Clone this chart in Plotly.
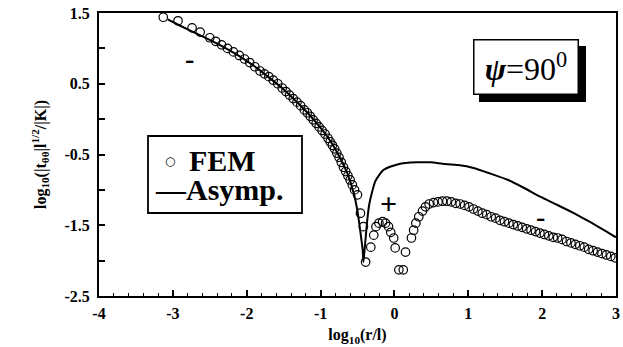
import plotly.graph_objects as go

# ---- data ----
fem_x = [-3.13, -2.93, -2.74, -2.63, -2.50, -2.42, -2.34, -2.26, -2.18, -2.10,
         -2.03, -1.96, -1.89, -1.82, -1.76, -1.70, -1.64, -1.58, -1.52, -1.47,
         -1.42, -1.37, -1.32, -1.27, -1.22, -1.18, -1.14, -1.10, -1.06, -1.02,
         -0.98, -0.94, -0.90, -0.87, -0.84, -0.81, -0.78, -0.75, -0.72, -0.69,
         -0.66, -0.63, -0.60, -0.57, -0.54, -0.50, -0.46, -0.42, -0.39,
         -0.32, -0.28, -0.25, -0.21, -0.16, -0.12, -0.08, -0.05, -0.01, 0.01,
         0.06, 0.12, 0.15,
         0.23, 0.26, 0.29, 0.33, 0.38, 0.42, 0.47, 0.53, 0.59, 0.65,
         0.71, 0.77, 0.83, 0.89, 0.95, 1.01, 1.07, 1.13, 1.19, 1.25,
         1.31, 1.37, 1.43, 1.49, 1.55, 1.61, 1.67, 1.73, 1.79, 1.85,
         1.91, 1.97, 2.03, 2.09, 2.15, 2.21, 2.27, 2.33, 2.39, 2.45,
         2.51, 2.57, 2.63, 2.69, 2.75, 2.81, 2.87, 2.93, 2.99]
fem_y = [1.44, 1.39, 1.29, 1.23, 1.15, 1.10, 1.05, 1.00, 0.95, 0.90,
         0.85, 0.80, 0.74, 0.68, 0.64, 0.60, 0.55, 0.50, 0.44, 0.39,
         0.34, 0.29, 0.24, 0.19, 0.13, 0.09, 0.04, -0.01, -0.06, -0.11,
         -0.16, -0.21, -0.27, -0.32, -0.37, -0.42, -0.48, -0.54, -0.61, -0.68,
         -0.74, -0.80, -0.86, -0.93, -1.00, -1.07, -1.33, -1.52, -2.02,
         -1.81, -1.64, -1.52, -1.47, -1.45, -1.47, -1.52, -1.60, -1.68, -1.82,
         -2.13, -2.13, -1.88,
         -1.68, -1.57, -1.47, -1.38, -1.30, -1.24, -1.20, -1.18, -1.17, -1.16,
         -1.16, -1.17, -1.19, -1.20, -1.22, -1.24, -1.27, -1.30, -1.33, -1.35,
         -1.38, -1.40, -1.43, -1.45, -1.47, -1.49, -1.51, -1.53, -1.55, -1.57,
         -1.59, -1.61, -1.63, -1.65, -1.67, -1.68, -1.70, -1.73, -1.75, -1.77,
         -1.79, -1.81, -1.84, -1.86, -1.88, -1.90, -1.92, -1.94, -1.96]

asym_x = [-3.07, -2.9, -2.7, -2.5, -2.3, -2.1, -1.9, -1.7, -1.5, -1.3,
          -1.1, -0.9, -0.75, -0.64, -0.55, -0.50, -0.46, -0.43, -0.42, -0.40,
          -0.37, -0.34, -0.30, -0.26, -0.20, -0.15, -0.05, 0.04, 0.15, 0.30,
          0.49, 0.65, 0.86, 1.07, 1.30, 1.54, 1.75, 1.98, 2.20, 2.43,
          2.66, 2.89, 3.0]
asym_y = [1.41, 1.32, 1.22, 1.12, 1.01, 0.89, 0.75, 0.59, 0.42, 0.22,
          0.0, -0.26, -0.52, -0.76, -1.05, -1.30, -1.60, -1.85, -2.02, -1.80,
          -1.45, -1.20, -1.02, -0.88, -0.78, -0.72, -0.67, -0.64, -0.62, -0.61,
          -0.61, -0.63, -0.65, -0.69, -0.77, -0.86, -0.97, -1.10, -1.21, -1.33,
          -1.46, -1.60, -1.67]

x_ticks = [-4, -3, -2, -1, 0, 1, 2, 3]
y_ticks = [1.5, 0.5, -0.5, -1.5, -2.5]

series_names = ["FEM", "Asymp."]

SERIF = "Liberation Serif, Times New Roman, serif"

# plot area in pixels
L, R, T, B = 99, 616, 13, 296
W, H = R - L, B - T


def px(xp):
    return (xp - L) / W


def py(yp):
    return (B - yp) / H


fig = go.Figure()
fig.add_trace(go.Scatter(
    x=fem_x, y=fem_y, mode="markers", name=series_names[0], showlegend=False,
    marker=dict(symbol="circle-open", size=8.5, color="black", line=dict(width=1.2, color="black")),
))
fig.add_trace(go.Scatter(
    x=asym_x, y=asym_y, mode="lines", name=series_names[1], showlegend=False,
    line=dict(color="black", width=2, shape="spline", smoothing=0.5),
))

# legend box (drawn as in the original figure: symbols are typeset text)
fig.add_shape(type="rect", xref="paper", yref="paper",
              x0=px(148), x1=px(302), y0=py(213), y1=py(136),
              fillcolor="white", line=dict(color="black", width=1.8), layer="above")
fig.add_annotation(xref="paper", yref="paper", x=px(170), y=py(161),
                   text="○", showarrow=False, xanchor="center", yanchor="middle",
                   font=dict(family="DejaVu Sans", size=12, color="black"))
fig.add_annotation(xref="paper", yref="paper", x=px(187), y=py(160),
                   text="<b>" + series_names[0] + "</b>", showarrow=False,
                   xanchor="left", yanchor="middle",
                   font=dict(family=SERIF, size=30, color="black"))
fig.add_annotation(xref="paper", yref="paper", x=px(153), y=py(189),
                   text="<b>—" + series_names[1] + "</b>", showarrow=False,
                   xanchor="left", yanchor="middle",
                   font=dict(family=SERIF, size=30, color="black"))

# shadow of the psi box
fig.add_shape(type="rect", xref="paper", yref="paper",
              x0=px(479), x1=px(586), y0=py(102), y1=py(46),
              fillcolor="black", line=dict(width=0), layer="above")

fig.add_annotation(xref="paper", yref="paper",
                   x=px(525.5), y=py(67), xanchor="center", yanchor="middle",
                   text="<b><i>ψ</i></b>=90<sup>0</sup>", showarrow=False,
                   font=dict(family=SERIF, size=32, color="black"),
                   bgcolor="white", bordercolor="black", borderwidth=1.5,
                   width=101, height=51, borderpad=1)

# sign labels
for sx, sy, txt, sz in [(-2.77, 0.85, "-", 28), (-0.08, -1.19, "+", 30), (1.98, -1.38, "-", 28)]:
    fig.add_annotation(x=sx, y=sy, text="<b>" + txt + "</b>", showarrow=False,
                       font=dict(family=SERIF, size=sz, color="black"))

axis_common = dict(showline=True, linecolor="black", linewidth=2, mirror=True,
                   ticks="inside", tickcolor="black", tickwidth=1.5, ticklen=6,
                   showgrid=False, zeroline=False, automargin=False,
                   tickfont=dict(family=SERIF, size=16, color="black", weight="bold"))

fig.update_xaxes(range=[-4, 3], tickvals=x_ticks, ticktext=[str(v) for v in x_ticks],
                 ticklabelstandoff=2,
                 minor=dict(ticks="inside", ticklen=3, tickwidth=1, tickcolor="black", dtick=0.2, tick0=0),
                 title=dict(text="<b>log<sub>10</sub>(r/l)</b>", standoff=8,
                            font=dict(family=SERIF, size=16, color="black")),
                 **axis_common)
fig.update_yaxes(range=[-2.5, 1.5], tickvals=y_ticks, ticktext=[str(v) for v in y_ticks],
                 ticklabelstandoff=4,
                 minor=dict(ticks="inside", ticklen=6, tickwidth=1.5, tickcolor="black", dtick=0.5, tick0=0),
                 title=dict(text="<b>log<sub>10</sub>(|t<sub>θθ</sub>|l<sup>1/2</sup>/|K|)</b>", standoff=14,
                            font=dict(family=SERIF, size=16, color="black")),
                 **axis_common)

fig.update_layout(
    width=623, height=347,
    margin=dict(l=L, r=623 - R, t=T, b=347 - B, autoexpand=False),
    paper_bgcolor="white", plot_bgcolor="white",
    showlegend=False,
)

fig.write_html("out.html", config={"displayModeBar": False},
               post_script="document.body.style.margin='0';document.body.style.overflow='hidden';")
